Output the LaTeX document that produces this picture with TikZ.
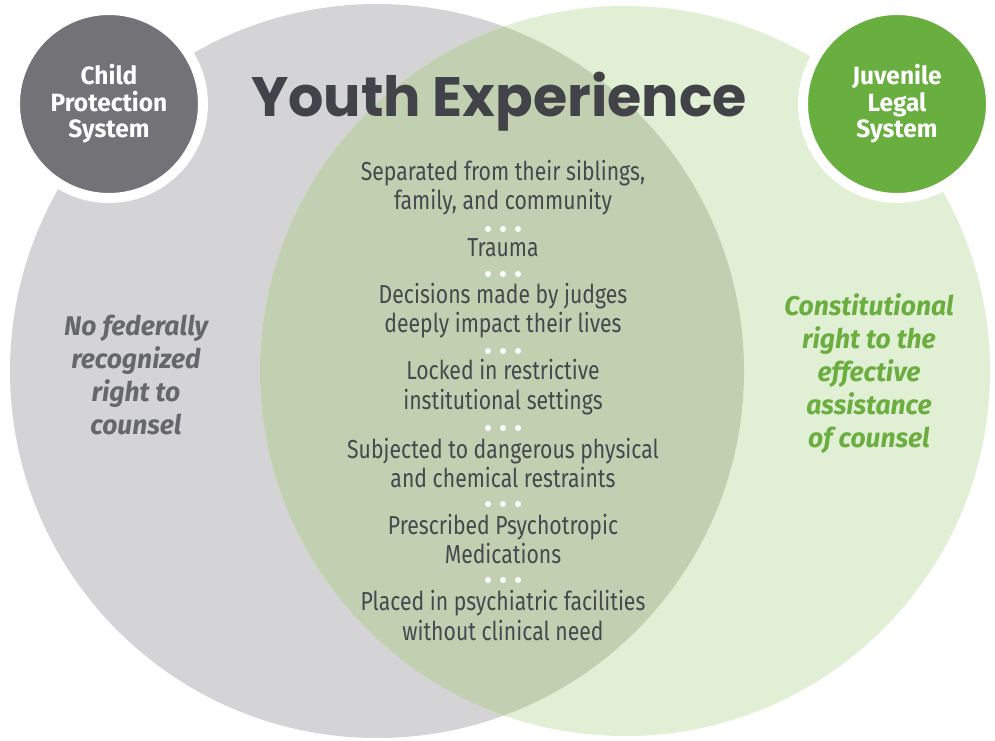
\documentclass[tikz,border=0pt]{standalone}
\usepackage{fontspec}
\setmainfont{Fira Sans}
\newfontfamily\titlefont{Poppins}
\newfontfamily\bodyfont[FakeStretch=0.815]{Fira Sans}
\newfontfamily\labelfont[FakeStretch=0.98]{Fira Sans}
\usepackage{tikz}

\definecolor{cpsgray}{HTML}{737277}
\definecolor{leftfill}{HTML}{D4D4D6}
\definecolor{rightfill}{HTML}{E1EFD4}
\definecolor{bothfill}{HTML}{C2D0B2}
\definecolor{jlsgreen}{HTML}{69AF3F}
\definecolor{titlegray}{HTML}{414349}
\definecolor{bodygray}{HTML}{45484E}
\definecolor{sidegray}{HTML}{66676C}
\definecolor{sidegreen}{HTML}{6AAE3F}

\tikzset{
  syscircle/.style={circle, draw=white, line width=10pt, minimum size=188pt,
    inner sep=0pt, text=white, align=center,
    font=\labelfont\bfseries\fontsize{25}{26.5}\selectfont},
  item/.style={align=center, text=bodygray, inner sep=0pt,
    font=\bodyfont\fontsize{26}{29.5}\selectfont},
  side/.style={align=center, inner sep=0pt,
    font=\labelfont\bfseries\itshape\fontsize{27}{33}\selectfont}
}

\begin{document}
\begin{tikzpicture}[x=1pt,y=-1pt]
	\useasboundingbox (0,0) rectangle (995,740);

	% the two systems
	\fill[leftfill] (377,371) circle (367);
	\fill[rightfill] (625,371) circle (365);
	\begin{scope}
		\clip (377,371) circle (367);
		\fill[bothfill] (625,371) circle (365);
	\end{scope}

	\node[syscircle, fill=cpsgray] (cps) at (109,104) {Child\\Protection\\System};
	\node[syscircle, fill=jlsgreen] (jls) at (897,104) {Juvenile\\Legal\\System};

	\node[text=titlegray, inner sep=0pt, anchor=base, font=\titlefont\bfseries\fontsize{55.5}{55.5}\selectfont]
		(title) at (499,116) {Youth Experience};

	% shared experience
	\node[item] (sep) at (503,187.5) {Separated from their siblings,\\family, and community};
	\node[item] (trauma) at (503,248) {Trauma};
	\node[item] (judges) at (503,310.5) {Decisions made by judges\\deeply impact their lives};
	\node[item] (locked) at (503,387) {Locked in restrictive\\institutional settings};
	\node[item] (restr) at (503,463) {Subjected to dangerous physical\\and chemical restraints};
	\node[item] (meds) at (503,539) {Prescribed Psychotropic\\Medications};
	\node[item] (psych) at (503,615.5) {Placed in psychiatric facilities\\without clinical need};

	\foreach \y in {229,274,351,428,504,580}
		\foreach \dx in {-15,0,15}
			\fill[white] (503+\dx,\y) circle (3);

	% right to counsel
	\node[side, text=sidegray] (nocounsel) at (136,375) {No federally\\recognized\\right to\\counsel};
	\node[side, text=sidegreen] (counsel) at (869,374) {Constitutional\\right to the\\effective\\assistance\\of counsel};
\end{tikzpicture}
\end{document}
